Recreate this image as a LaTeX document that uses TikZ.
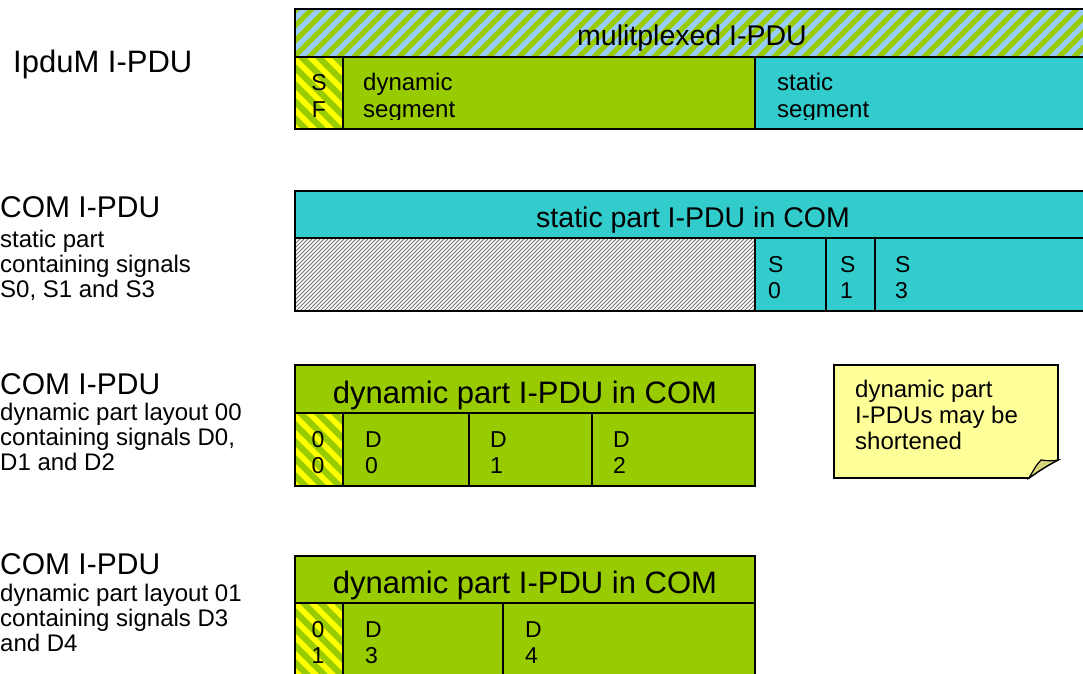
\documentclass[tikz,border=0pt]{standalone}
\usepackage{fontspec}
\setmainfont{Liberation Sans}
\definecolor{grn}{HTML}{99CC00}
\definecolor{cyn}{HTML}{33CCCC}
\definecolor{lblu}{HTML}{99CCFF}
\definecolor{yel}{HTML}{FFFF00}
\definecolor{notey}{HTML}{FFFF99}
\definecolor{foldy}{HTML}{D6D67A}
% stripes going up to the right: x1 y1 x2 y2 bg fg period width
\newcommand{\stripesUp}[8]{%
  \begin{scope}
    \clip (#1,#2) rectangle (#3,#4);
    \fill[#5] (#1,#2) rectangle (#3,#4);
    \pgfmathsetmacro\hh{#4-#2}
    \pgfmathsetmacro\sA{#1-\hh-#7}
    \pgfmathsetmacro\sB{\sA+#7}
    \foreach \s in {\sA,\sB,...,#3}{\draw[#6,line width=#8] (\s,#4+2) -- ++(\hh+4,-\hh-4);}
  \end{scope}}
% stripes going down to the right
\newcommand{\stripesDown}[8]{%
  \begin{scope}
    \clip (#1,#2) rectangle (#3,#4);
    \fill[#5] (#1,#2) rectangle (#3,#4);
    \pgfmathsetmacro\hh{#4-#2}
    \pgfmathsetmacro\sA{#1-\hh-#7}
    \pgfmathsetmacro\sB{\sA+#7}
    \foreach \s in {\sA,\sB,...,#3}{\draw[#6,line width=#8] (\s,#2-2) -- ++(\hh+4,\hh+4);}
  \end{scope}}
\begin{document}
\begin{tikzpicture}[x=1pt,y=-1pt,
  cell/.style={draw=black,line width=1.6pt},
  big/.style={inner sep=0pt,font=\fontsize{31}{33}\selectfont},
  mid/.style={inner sep=0pt,font=\fontsize{28.5}{31}\selectfont},
  sml/.style={inner sep=0pt,anchor=base west,font=\fontsize{24}{26}\selectfont},
  cel/.style={inner sep=0pt,font=\fontsize{23}{25}\selectfont}]
\clip (0,0) rectangle (1083,673);
\fill[white] (0,0) rectangle (1083,673);

% ---------- row 1 : IpduM I-PDU ----------
\node[big,anchor=base west] (l1) at (13,72) {IpduM I-PDU};
\stripesUp{295}{9}{1095}{57}{lblu}{grn}{15}{5pt}
\draw[cell] (295,9) rectangle (1095,57);
\node[mid,anchor=base] (t1) at (692,45) {mulitplexed I-PDU};
\stripesDown{295}{57}{343}{129}{grn}{yel}{17}{5.5pt}
\fill[grn] (343,57) rectangle (755,129);
\fill[cyn] (755,57) rectangle (1095,129);
\begin{scope}
  \clip (295,57) rectangle (1095,119);
  \node[cel,anchor=base] (sf1) at (319,90) {S};
  \node[cel,anchor=base] (sf2) at (319,117) {F};
  \node[sml] (dy1) at (363,90) {dynamic};
  \node[sml] (dy2) at (363,117) {segment};
  \node[sml] (st1) at (777,90) {static};
  \node[sml] (st2) at (777,117) {segment};
\end{scope}
\draw[cell] (295,57) rectangle (343,129);
\draw[cell] (343,57) rectangle (755,129);
\draw[cell] (755,57) rectangle (1095,129);

% ---------- row 2 : static part ----------
\node[big,anchor=base west,font=\fontsize{30}{32}\selectfont] (l2) at (0,217) {COM I-PDU};
\node[sml] (l2a) at (0,247) {static part};
\node[sml] (l2b) at (0,272) {containing signals};
\node[sml] (l2c) at (0,297) {S0, S1 and S3};
\fill[cyn] (295,191) rectangle (1095,238);
\draw[cell] (295,191) rectangle (1095,238);
\node[mid,anchor=base] (t2) at (693,227) {static part I-PDU in COM};
\stripesUp{295}{238}{755}{311}{white}{black!55}{4}{1pt}
\fill[cyn] (755,238) rectangle (1095,311);
\draw[cell] (295,238) rectangle (755,311);
\draw[cell] (755,238) rectangle (826,311);
\draw[cell] (826,238) rectangle (875,311);
\draw[cell] (875,238) rectangle (1095,311);
\node[cel,anchor=base west] (s0a) at (768,272) {S};
\node[cel,anchor=base west] (s0b) at (768,298) {0};
\node[cel,anchor=base west] (s1a) at (840,272) {S};
\node[cel,anchor=base west] (s1b) at (840,298) {1};
\node[cel,anchor=base west] (s3a) at (895,272) {S};
\node[cel,anchor=base west] (s3b) at (895,298) {3};

% ---------- row 3 : dynamic part layout 00 ----------
\node[big,anchor=base west,font=\fontsize{30}{32}\selectfont] (l3) at (0,394) {COM I-PDU};
\node[sml] (l3a) at (0,420) {dynamic part layout 00};
\node[sml] (l3b) at (0,445) {containing signals D0,};
\node[sml] (l3c) at (0,470) {D1 and D2};
\fill[grn] (295,365) rectangle (755,486);
\draw[cell] (295,365) rectangle (755,413);
\node[big,anchor=base] (t3) at (525,403) {dynamic part I-PDU in COM};
\stripesDown{295}{413}{343}{486}{grn}{yel}{17}{5.5pt}
\draw[cell] (295,413) rectangle (343,486);
\draw[cell] (343,413) rectangle (469,486);
\draw[cell] (469,413) rectangle (592,486);
\draw[cell] (592,413) rectangle (755,486);
\node[cel,anchor=base] (c0a) at (318,447) {0};
\node[cel,anchor=base] (c0b) at (318,473) {0};
\node[cel,anchor=base west] (d0a) at (365,447) {D};
\node[cel,anchor=base west] (d0b) at (365,473) {0};
\node[cel,anchor=base west] (d1a) at (490,447) {D};
\node[cel,anchor=base west] (d1b) at (490,473) {1};
\node[cel,anchor=base west] (d2a) at (613,447) {D};
\node[cel,anchor=base west] (d2b) at (613,473) {2};

% ---------- note ----------
\draw[line width=1.6pt,fill=notey] (834,365) -- (1058,365) -- (1058,460)
  .. controls (1046,466) and (1036,473) .. (1029,478) -- (834,478) -- cycle;
\draw[line width=1.2pt,fill=foldy] (1029,478) .. controls (1033,471) and (1036,465) .. (1041,460)
  .. controls (1047,461) and (1053,461) .. (1058,460)
  .. controls (1046,466) and (1036,473) .. (1029,478) -- cycle;
\node[sml] (n1) at (855,397) {dynamic part};
\node[sml] (n2) at (855,423) {I-PDUs may be};
\node[sml] (n3) at (855,449) {shortened};

% ---------- row 4 : dynamic part layout 01 ----------
\node[big,anchor=base west,font=\fontsize{30}{32}\selectfont] (l4) at (0,574) {COM I-PDU};
\node[sml] (l4a) at (0,601) {dynamic part layout 01};
\node[sml] (l4b) at (0,626) {containing signals D3};
\node[sml] (l4c) at (0,651) {and D4};
\fill[grn] (295,556) rectangle (755,690);
\draw[cell] (295,556) rectangle (755,603);
\node[big,anchor=base] (t4) at (525,593) {dynamic part I-PDU in COM};
\stripesDown{295}{603}{343}{690}{grn}{yel}{17}{5.5pt}
\draw[cell] (295,603) rectangle (343,690);
\draw[cell] (343,603) rectangle (503,690);
\draw[cell] (503,603) rectangle (755,690);
\node[cel,anchor=base] (c1a) at (318,637) {0};
\node[cel,anchor=base] (c1b) at (318,663) {1};
\node[cel,anchor=base west] (d3a) at (365,637) {D};
\node[cel,anchor=base west] (d3b) at (365,663) {3};
\node[cel,anchor=base west] (d4a) at (525,637) {D};
\node[cel,anchor=base west] (d4b) at (525,663) {4};
\end{tikzpicture}
\end{document}
